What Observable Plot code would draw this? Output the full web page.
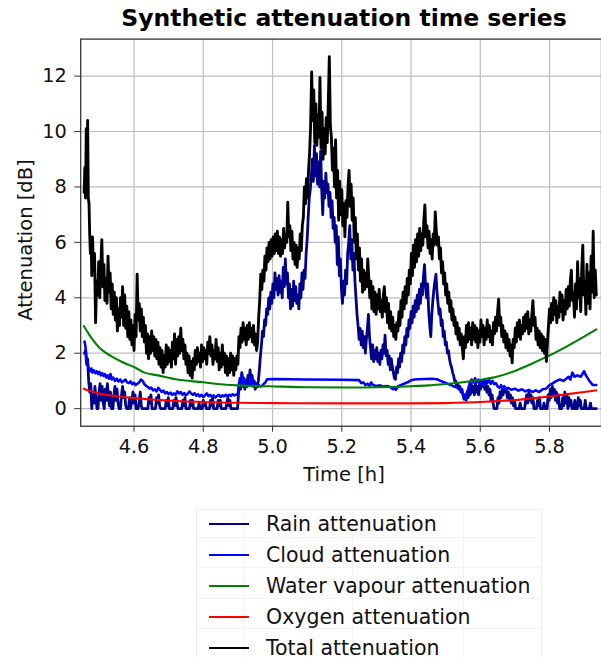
<!DOCTYPE html>
<html>
<head>
<meta charset="utf-8">
<script src="https://cdn.jsdelivr.net/npm/d3@7"></script>
<script src="https://cdn.jsdelivr.net/npm/@observablehq/plot@0.6"></script>
<style>
  html, body { margin: 0; padding: 0; background: #fff; }
  body { width: 601px; height: 657px; overflow: hidden; position: relative; font-family: "DejaVu Sans", sans-serif; }
  #chart { position: absolute; left: 0; top: 0; }
  #title { position: absolute; left: 81px; width: 526px; top: 4px; text-align: center; font-weight: bold; font-size: 23.5px; color: #000; white-space: nowrap; }
  #ylabel { position: absolute; left: 25px; top: 240px; transform: translate(-50%, -50%) rotate(-90deg); font-size: 19.5px; white-space: nowrap; color: #111; }
  #xlabel { position: absolute; left: 81px; width: 526px; top: 463px; text-align: center; font-size: 19.5px; color: #111; }
  #legend { position: absolute; left: 196px; top: 509px; width: 344px; height: 147px; border: 1px solid #ececec; border-bottom: none; }
  .row { position: absolute; left: 0; height: 20px; font-size: 20.5px; color: #111; white-space: nowrap; }
  .row .h { position: absolute; left: 12px; width: 40px; top: 11px; height: 2px; }
  .row .t { position: absolute; left: 69px; top: 2px; line-height: 20px; }
  .fg { position: absolute; background: #f3f3f3; }
</style>
</head>
<body>
<div id="chart"></div>
<div id="title">Synthetic attenuation time series</div>
<div id="ylabel">Attenuation [dB]</div>
<div id="xlabel">Time [h]</div>
<div id="legend"></div>
<script>
// ---- data (time [h], attenuation [dB]) ----
const rainAttenuation = [
[4.457,2.0],[4.460,2.1],[4.463,1.6],[4.466,1.8],[4.469,1.0],[4.472,0.6],[4.475,0.9],[4.478,0.0],[4.481,0.5],[4.484,0.2],
[4.487,0.8],[4.490,0.4],[4.493,0.0],[4.496,0.0],[4.499,0.6],[4.502,0.9],[4.505,0.3],[4.508,0.8],[4.511,0.2],[4.514,0.0],
[4.517,0.7],[4.520,0.3],[4.523,0.9],[4.526,0.5],[4.529,0.1],[4.532,0.6],[4.535,0.0],[4.539,0.0],[4.542,0.5],[4.545,0.8],
[4.548,0.3],[4.551,0.7],[4.554,0.2],[4.557,0.0],[4.561,0.0],[4.564,0.5],[4.567,0.8],[4.570,0.4],[4.573,0.6],[4.576,0.1],
[4.579,0.0],[4.584,0.0],[4.587,0.4],[4.590,0.0],[4.594,0.3],[4.597,0.6],[4.600,0.2],[4.603,0.5],[4.606,0.0],[4.612,0.0],
[4.615,0.3],[4.618,0.6],[4.621,0.1],[4.624,0.0],[4.640,0.0],[4.643,0.4],[4.646,0.2],[4.649,0.5],[4.652,0.0],[4.662,0.0],
[4.665,0.4],[4.668,0.2],[4.671,0.5],[4.674,0.1],[4.677,0.0],[4.690,0.0],[4.693,0.3],[4.696,0.1],[4.699,0.4],[4.702,0.0],
[4.712,0.0],[4.715,0.3],[4.718,0.1],[4.721,0.4],[4.724,0.2],[4.727,0.0],[4.738,0.0],[4.741,0.3],[4.744,0.1],[4.747,0.4],
[4.750,0.0],[4.760,0.0],[4.763,0.3],[4.766,0.1],[4.769,0.3],[4.772,0.0],[4.785,0.0],[4.788,0.2],[4.791,0.0],[4.797,0.0],
[4.800,0.3],[4.803,0.1],[4.806,0.2],[4.809,0.0],[4.818,0.0],[4.821,0.3],[4.824,0.1],[4.827,0.4],[4.830,0.0],[4.840,0.0],
[4.843,0.3],[4.846,0.1],[4.849,0.3],[4.852,0.0],[4.865,0.0],[4.868,0.2],[4.871,0.4],[4.874,0.1],[4.877,0.3],[4.880,0.0],
[4.899,0.0],[4.902,0.6],[4.905,0.9],[4.908,0.7],[4.911,1.3],[4.914,0.8],[4.917,1.1],[4.920,0.7],[4.923,1.0],[4.926,0.8],
[4.929,1.2],[4.932,0.9],[4.935,1.4],[4.938,1.0],[4.941,1.2],[4.944,0.8],[4.947,1.0],[4.950,0.7],[4.953,0.9],[4.956,0.8],
[4.959,1.0],[4.962,1.4],[4.965,1.9],[4.968,2.3],[4.971,2.8],[4.974,2.6],[4.977,3.2],[4.980,3.0],[4.983,3.6],[4.986,3.4],
[4.989,4.0],[4.992,3.6],[4.995,4.2],[4.998,3.8],[5.001,4.5],[5.004,4.0],[5.007,4.9],[5.010,4.3],[5.013,4.7],[5.016,4.1],
[5.019,4.8],[5.022,4.2],[5.025,4.6],[5.028,4.0],[5.031,5.1],[5.034,4.4],[5.037,5.4],[5.040,4.5],[5.043,4.9],[5.046,4.0],
[5.049,4.5],[5.052,3.6],[5.055,4.3],[5.058,3.7],[5.061,4.6],[5.064,3.9],[5.067,4.4],[5.070,3.8],[5.073,4.1],[5.076,3.6],
[5.079,4.5],[5.082,4.0],[5.085,4.9],[5.088,4.3],[5.091,5.0],[5.094,4.7],[5.097,5.6],[5.100,6.1],[5.103,6.9],[5.106,7.6],
[5.109,7.9],[5.112,8.4],[5.115,9.0],[5.118,8.2],[5.121,9.5],[5.124,8.4],[5.127,9.2],[5.130,8.1],[5.133,8.9],[5.136,8.0],
[5.139,9.3],[5.142,7.9],[5.145,7.0],[5.148,8.2],[5.151,7.6],[5.154,8.5],[5.157,7.8],[5.160,8.1],[5.163,7.3],[5.166,7.8],
[5.169,6.9],[5.172,7.5],[5.175,6.5],[5.178,6.9],[5.181,6.0],[5.184,6.6],[5.187,5.2],[5.190,6.2],[5.193,4.8],[5.196,5.4],
[5.199,4.3],[5.202,3.8],[5.205,4.6],[5.208,4.1],[5.211,5.0],[5.214,4.5],[5.217,5.6],[5.220,6.0],[5.223,6.6],[5.226,5.4],
[5.229,6.1],[5.232,5.0],[5.235,5.6],[5.238,4.6],[5.241,4.0],[5.244,3.4],[5.247,3.0],[5.250,2.5],[5.253,2.9],[5.256,2.3],
[5.259,2.8],[5.262,2.2],[5.265,2.6],[5.268,2.0],[5.271,2.5],[5.274,2.9],[5.277,3.4],[5.280,2.6],[5.283,2.2],[5.286,1.8],
[5.289,2.3],[5.292,1.7],[5.295,2.1],[5.298,1.8],[5.301,2.2],[5.304,1.7],[5.307,2.0],[5.310,1.6],[5.313,2.1],[5.316,1.8],
[5.319,2.3],[5.322,2.0],[5.325,2.65],[5.328,1.9],[5.331,2.1],[5.334,1.6],[5.337,1.9],[5.340,1.4],[5.343,1.8],[5.346,1.5],
[5.349,1.3],[5.352,1.1],[5.355,1.06],[5.358,1.5],[5.361,1.3],[5.364,1.8],[5.367,1.5],[5.370,2.0],[5.373,1.7],[5.376,2.3],
[5.379,2.0],[5.382,2.6],[5.385,2.3],[5.388,2.9],[5.391,2.6],[5.394,3.2],[5.397,2.9],[5.400,3.5],[5.403,3.1],[5.406,3.7],
[5.409,3.3],[5.412,3.9],[5.415,3.5],[5.418,4.1],[5.421,3.6],[5.424,4.3],[5.427,3.8],[5.430,4.5],[5.433,4.1],[5.436,4.8],
[5.439,5.2],[5.442,4.4],[5.445,4.0],[5.448,4.5],[5.451,3.5],[5.454,3.0],[5.457,2.6],[5.460,3.4],[5.463,3.9],[5.466,4.3],
[5.469,4.6],[5.472,4.85],[5.475,4.2],[5.478,3.8],[5.481,3.4],[5.484,3.6],[5.487,3.0],[5.490,3.2],[5.493,2.6],[5.496,2.8],
[5.499,2.3],[5.502,2.4],[5.505,2.0],[5.508,2.1],[5.511,1.8],[5.514,1.6],[5.517,1.5],[5.520,1.3],[5.523,1.2],[5.526,1.0],
[5.529,1.0],[5.532,0.8],[5.535,0.9],[5.538,0.7],[5.541,0.8],[5.544,0.6],[5.547,0.7],[5.550,0.5],[5.553,0.34],[5.556,0.5],
[5.559,0.3],[5.562,0.6],[5.565,0.4],[5.568,0.8],[5.571,0.5],[5.574,0.9],[5.577,0.6],[5.580,0.8],[5.583,0.5],[5.586,0.9],
[5.589,0.6],[5.592,0.8],[5.595,0.5],[5.598,0.9],[5.601,0.7],[5.604,1.0],[5.607,0.8],[5.610,1.0],[5.613,0.7],[5.616,0.9],
[5.619,0.6],[5.622,0.8],[5.625,0.5],[5.628,0.7],[5.631,0.3],[5.634,0.5],[5.637,0.2],[5.640,0.0],[5.648,0.0],[5.651,0.4],
[5.654,0.2],[5.657,0.6],[5.660,0.4],[5.663,0.7],[5.666,0.5],[5.669,0.8],[5.672,0.6],[5.675,0.7],[5.678,0.4],[5.681,0.6],
[5.684,0.3],[5.687,0.5],[5.690,0.2],[5.693,0.4],[5.696,0.1],[5.699,0.3],[5.702,0.0],[5.712,0.0],[5.715,0.2],[5.718,0.0],
[5.728,0.0],[5.731,0.3],[5.734,0.5],[5.737,0.2],[5.740,0.6],[5.743,0.3],[5.746,0.5],[5.749,0.2],[5.752,0.4],[5.755,0.0],
[5.762,0.0],[5.765,0.3],[5.768,0.1],[5.771,0.4],[5.774,0.0],[5.781,0.0],[5.784,0.2],[5.787,0.0],[5.793,0.0],[5.796,0.5],
[5.799,0.3],[5.802,0.7],[5.805,0.4],[5.808,0.8],[5.811,0.5],[5.814,0.7],[5.817,0.3],[5.820,0.6],[5.823,0.2],[5.826,0.5],
[5.829,0.0],[5.835,0.0],[5.838,0.4],[5.841,0.1],[5.844,0.6],[5.847,0.2],[5.850,0.5],[5.853,0.0],[5.856,0.4],[5.859,0.1],
[5.862,0.3],[5.865,0.0],[5.870,0.0],[5.873,0.3],[5.876,0.0],[5.880,0.0],[5.883,0.4],[5.886,0.1],[5.889,0.3],[5.892,0.0],
[5.900,0.0],[5.903,0.3],[5.906,0.0],[5.915,0.0],[5.918,0.2],[5.921,0.0],[5.935,0.0]
];

const cloudAttenuation = [
[4.457,2.42],[4.459,2.3],[4.461,2.1],[4.463,1.75],[4.465,1.65],[4.468,1.5],[4.471,1.42],[4.474,1.35],[4.477,1.45],[4.480,1.3],
[4.484,1.38],[4.488,1.28],[4.492,1.35],[4.496,1.25],[4.500,1.33],[4.504,1.2],[4.508,1.28],[4.512,1.18],[4.516,1.25],[4.520,1.12],
[4.524,1.2],[4.528,1.08],[4.532,1.25],[4.536,1.05],[4.540,1.12],[4.545,1.0],[4.550,1.08],[4.555,0.98],[4.560,1.05],[4.565,0.95],
[4.570,1.0],[4.575,1.05],[4.580,0.95],[4.585,0.92],[4.590,0.98],[4.595,0.88],[4.600,0.93],[4.605,0.85],[4.610,0.9],[4.615,0.95],
[4.620,1.05],[4.625,1.0],[4.630,0.88],[4.635,0.82],[4.640,0.78],[4.645,0.72],[4.650,0.76],[4.655,0.66],[4.660,0.7],[4.665,0.62],
[4.670,0.75],[4.675,0.68],[4.680,0.6],[4.685,0.65],[4.690,0.55],[4.695,0.6],[4.700,0.52],[4.705,0.58],[4.710,0.5],[4.715,0.55],
[4.720,0.5],[4.725,0.62],[4.730,0.55],[4.735,0.6],[4.740,0.5],[4.745,0.56],[4.750,0.48],[4.755,0.54],[4.760,0.62],[4.765,0.55],
[4.770,0.5],[4.775,0.56],[4.780,0.46],[4.785,0.52],[4.790,0.44],[4.795,0.5],[4.800,0.42],[4.805,0.48],[4.810,0.55],[4.815,0.45],
[4.820,0.5],[4.825,0.42],[4.830,0.48],[4.835,0.4],[4.840,0.46],[4.845,0.5],[4.850,0.42],[4.855,0.48],[4.860,0.44],[4.865,0.5],
[4.870,0.45],[4.875,0.5],[4.880,0.46],[4.885,0.52],[4.890,0.48],[4.895,0.5],[4.900,0.55],[4.903,0.9],[4.906,1.1],[4.909,0.85],
[4.912,1.25],[4.915,0.95],[4.918,1.1],[4.921,0.8],[4.924,0.95],[4.927,0.8],[4.930,1.0],[4.933,0.85],[4.936,1.15],[4.939,0.9],
[4.942,1.05],[4.945,0.82],[4.948,0.95],[4.951,0.8],[4.954,0.88],[4.957,0.78],[4.960,0.85],[4.965,0.8],[4.970,0.82],[4.975,0.9],
[4.980,0.95],[4.984,1.06],[5.000,1.07],[5.100,1.05],[5.200,1.04],[5.250,1.03],[5.256,0.92],[5.262,0.95],[5.268,0.85],[5.274,0.9],
[5.280,0.83],[5.285,0.95],[5.290,0.85],[5.300,0.82],[5.310,0.84],[5.320,0.8],[5.330,0.82],[5.340,0.78],[5.348,0.7],[5.352,0.75],
[5.356,0.68],[5.362,0.8],[5.370,0.85],[5.380,0.9],[5.390,0.95],[5.400,1.02],[5.410,1.05],[5.420,1.06],[5.440,1.07],[5.460,1.08],
[5.475,1.06],[5.485,1.0],[5.495,0.95],[5.505,0.9],[5.515,0.85],[5.525,0.8],[5.535,0.75],[5.545,0.65],[5.552,0.45],[5.556,0.35],
[5.560,0.5],[5.565,0.7],[5.570,0.95],[5.575,1.05],[5.580,0.95],[5.585,1.1],[5.590,0.95],[5.595,1.05],[5.600,0.9],[5.605,1.0],
[5.610,0.88],[5.615,1.02],[5.620,0.92],[5.625,1.05],[5.630,0.9],[5.635,1.0],[5.640,0.88],[5.645,0.92],[5.650,0.8],[5.655,0.75],
[5.660,0.85],[5.665,0.72],[5.670,0.78],[5.675,0.7],[5.680,0.75],[5.690,0.68],[5.700,0.72],[5.710,0.65],[5.720,0.7],[5.730,0.62],
[5.740,0.68],[5.750,0.6],[5.760,0.66],[5.770,0.6],[5.780,0.7],[5.790,0.72],[5.800,0.85],[5.810,0.92],[5.820,1.0],[5.830,1.05],
[5.840,1.0],[5.850,1.1],[5.855,1.15],[5.860,1.05],[5.866,1.3],[5.872,1.15],[5.880,1.2],[5.890,1.15],[5.900,1.35],[5.905,1.2],
[5.915,1.0],[5.925,0.85],[5.935,0.85]
];

const waterVapourAttenuation = [
[4.455,2.98],[4.47,2.68],[4.48,2.5],[4.50,2.2],[4.52,2.0],[4.54,1.85],[4.56,1.72],[4.58,1.6],[4.60,1.5],[4.63,1.3],
[4.67,1.2],[4.72,1.06],[4.80,0.95],[4.84,0.89],[4.90,0.84],[4.99,0.81],[5.10,0.77],[5.22,0.76],[5.30,0.77],[5.40,0.81],
[5.45,0.84],[5.50,0.89],[5.55,0.95],[5.60,1.04],[5.65,1.16],[5.70,1.36],[5.75,1.63],[5.80,1.92],[5.85,2.25],[5.90,2.6],
[5.935,2.86]
];

const oxygenAttenuation = [
[4.455,0.72],[4.47,0.65],[4.50,0.55],[4.55,0.45],[4.60,0.38],[4.65,0.33],[4.70,0.29],[4.75,0.26],[4.80,0.24],[4.85,0.22],
[4.90,0.21],[5.00,0.2],[5.20,0.19],[5.40,0.19],[5.50,0.2],[5.56,0.22],[5.60,0.24],[5.65,0.27],[5.70,0.31],[5.75,0.37],
[5.80,0.44],[5.85,0.52],[5.90,0.6],[5.935,0.66]
];

const totalAttenuation = [
[4.456,7.8],[4.458,8.7],[4.460,7.6],[4.462,10.1],[4.464,8.2],[4.466,10.4],[4.468,7.6],[4.470,7.4],[4.472,6.3],[4.474,5.6],
[4.476,6.1],[4.478,4.8],[4.480,6.2],[4.483,5.0],[4.486,5.6],[4.489,3.1],[4.492,4.6],[4.495,4.1],[4.498,5.3],[4.501,4.0],
[4.504,5.1],[4.507,6.1],[4.510,4.4],[4.513,5.2],[4.516,3.9],[4.519,4.7],[4.522,3.8],[4.525,5.5],[4.528,4.2],[4.531,4.9],
[4.534,3.6],[4.537,4.5],[4.540,3.4],[4.543,4.2],[4.546,3.2],[4.549,4.0],[4.552,2.8],[4.555,3.6],[4.558,3.0],[4.561,4.0],
[4.564,3.3],[4.567,4.4],[4.570,3.0],[4.573,4.1],[4.576,2.9],[4.579,3.7],[4.582,2.6],[4.585,3.5],[4.588,2.5],[4.591,3.2],
[4.594,2.3],[4.597,3.0],[4.600,2.1],[4.603,3.4],[4.606,2.6],[4.609,4.85],[4.612,3.2],[4.615,3.8],[4.618,2.8],[4.621,3.6],
[4.624,2.6],[4.627,3.3],[4.630,2.4],[4.633,3.0],[4.636,2.0],[4.639,2.7],[4.642,1.8],[4.645,2.6],[4.648,2.0],[4.651,2.8],
[4.654,2.1],[4.657,2.6],[4.660,1.9],[4.663,2.5],[4.666,1.8],[4.669,2.4],[4.672,1.6],[4.675,2.2],[4.678,1.5],[4.681,2.1],
[4.684,1.3],[4.687,1.9],[4.690,1.5],[4.693,2.3],[4.696,1.6],[4.699,2.2],[4.702,1.7],[4.705,2.1],[4.708,1.5],[4.711,2.4],
[4.714,1.8],[4.717,2.7],[4.720,1.6],[4.723,2.5],[4.726,1.9],[4.729,2.6],[4.732,2.0],[4.735,2.9],[4.738,2.1],[4.741,2.5],
[4.744,1.8],[4.747,2.3],[4.750,1.6],[4.753,2.0],[4.756,1.3],[4.759,1.9],[4.762,1.2],[4.765,1.7],[4.768,1.1],[4.771,1.8],
[4.774,1.4],[4.777,2.1],[4.780,1.6],[4.783,2.2],[4.786,1.7],[4.789,2.0],[4.792,1.5],[4.795,2.3],[4.798,1.7],[4.801,2.2],
[4.804,1.8],[4.807,2.1],[4.810,1.6],[4.813,2.4],[4.816,2.0],[4.819,2.6],[4.822,1.9],[4.825,2.3],[4.828,1.6],[4.831,2.1],
[4.834,1.8],[4.837,2.5],[4.840,1.7],[4.843,2.2],[4.846,1.4],[4.849,2.0],[4.852,1.5],[4.855,2.3],[4.858,1.6],[4.861,2.0],
[4.864,1.3],[4.867,1.9],[4.870,1.2],[4.873,1.8],[4.876,1.3],[4.879,2.0],[4.882,1.4],[4.885,1.9],[4.888,1.2],[4.891,1.8],
[4.894,1.4],[4.897,1.9],[4.900,1.6],[4.903,2.6],[4.906,2.2],[4.909,2.9],[4.912,2.4],[4.915,3.1],[4.918,2.5],[4.921,2.9],
[4.924,2.3],[4.927,3.0],[4.930,2.5],[4.933,3.1],[4.936,2.6],[4.939,2.9],[4.942,2.4],[4.945,3.0],[4.948,2.3],[4.951,2.7],
[4.954,2.1],[4.957,2.4],[4.960,3.3],[4.963,3.9],[4.966,4.85],[4.969,4.3],[4.972,5.0],[4.975,4.6],[4.978,5.5],[4.981,5.0],
[4.984,5.8],[4.987,5.3],[4.990,6.0],[4.993,5.4],[4.996,6.1],[4.999,5.5],[5.002,6.2],[5.005,5.6],[5.008,6.3],[5.011,5.7],
[5.014,6.4],[5.017,5.6],[5.020,6.2],[5.023,5.5],[5.026,6.1],[5.029,5.6],[5.032,6.5],[5.035,5.8],[5.038,6.3],[5.041,6.0],
[5.044,7.45],[5.047,6.2],[5.050,6.6],[5.053,5.7],[5.056,6.4],[5.059,5.4],[5.062,6.0],[5.065,5.2],[5.068,5.9],[5.071,5.1],
[5.074,5.8],[5.077,5.4],[5.080,6.3],[5.083,5.7],[5.086,6.6],[5.089,6.9],[5.092,8.0],[5.095,7.4],[5.098,8.3],[5.101,7.6],
[5.104,8.6],[5.107,9.2],[5.110,10.2],[5.113,12.15],[5.116,10.4],[5.119,11.5],[5.122,9.6],[5.125,11.0],[5.128,9.5],[5.131,10.6],
[5.134,9.8],[5.137,11.95],[5.140,9.4],[5.143,10.7],[5.146,9.0],[5.149,10.1],[5.152,9.2],[5.155,10.5],[5.158,9.6],[5.161,11.0],
[5.164,12.7],[5.167,10.2],[5.170,9.8],[5.173,8.6],[5.176,9.4],[5.179,8.0],[5.182,9.7],[5.185,7.6],[5.188,8.6],[5.191,6.8],
[5.194,8.2],[5.197,7.0],[5.200,7.9],[5.203,6.6],[5.206,7.4],[5.209,6.2],[5.212,7.5],[5.215,6.9],[5.218,8.0],[5.221,8.6],
[5.224,7.3],[5.227,8.1],[5.230,6.8],[5.233,7.6],[5.236,6.0],[5.239,6.9],[5.242,5.4],[5.245,6.3],[5.248,5.0],[5.251,5.8],
[5.254,4.6],[5.257,5.4],[5.260,4.2],[5.263,5.0],[5.266,4.3],[5.269,4.9],[5.272,4.4],[5.275,5.4],[5.278,4.7],[5.281,4.0],
[5.284,4.6],[5.287,3.6],[5.290,4.4],[5.293,3.5],[5.296,4.2],[5.299,3.4],[5.302,4.1],[5.305,3.6],[5.308,4.3],[5.311,3.5],
[5.314,3.9],[5.317,3.3],[5.320,4.1],[5.323,4.4],[5.326,3.5],[5.329,4.0],[5.332,3.1],[5.335,3.8],[5.338,2.9],[5.341,3.5],
[5.344,2.8],[5.347,3.3],[5.350,2.6],[5.353,3.0],[5.356,2.5],[5.359,3.1],[5.362,2.8],[5.365,3.5],[5.368,3.0],[5.371,3.9],
[5.374,3.3],[5.377,4.2],[5.380,3.6],[5.383,4.4],[5.386,3.8],[5.389,4.7],[5.392,4.1],[5.395,5.0],[5.398,4.5],[5.401,5.6],
[5.404,4.8],[5.407,5.9],[5.410,5.1],[5.413,6.1],[5.416,5.3],[5.419,6.3],[5.422,5.5],[5.425,6.5],[5.428,5.7],[5.431,6.3],
[5.434,5.9],[5.437,6.8],[5.440,7.35],[5.443,6.2],[5.446,6.6],[5.449,5.8],[5.452,6.4],[5.455,5.6],[5.458,6.1],[5.461,5.4],
[5.464,6.3],[5.467,5.9],[5.470,7.1],[5.473,6.4],[5.476,5.9],[5.479,6.2],[5.482,5.4],[5.485,5.8],[5.488,4.9],[5.491,5.3],
[5.494,4.5],[5.497,4.9],[5.500,4.1],[5.503,4.5],[5.506,3.8],[5.509,4.2],[5.512,3.5],[5.515,3.9],[5.518,3.2],[5.521,3.6],
[5.524,3.0],[5.527,3.3],[5.530,2.7],[5.533,3.1],[5.536,2.5],[5.539,2.9],[5.542,2.3],[5.545,2.7],[5.548,2.2],[5.551,1.8],
[5.554,2.6],[5.557,2.2],[5.560,3.0],[5.563,2.4],[5.566,3.1],[5.569,2.5],[5.572,2.9],[5.575,2.3],[5.578,3.1],[5.581,2.5],
[5.584,3.0],[5.587,2.4],[5.590,2.9],[5.593,2.2],[5.596,2.8],[5.599,2.4],[5.602,3.2],[5.605,2.6],[5.608,3.0],[5.611,2.3],
[5.614,2.9],[5.617,2.5],[5.620,3.2],[5.623,2.6],[5.626,3.0],[5.629,2.4],[5.632,2.8],[5.635,2.3],[5.638,3.1],[5.641,2.7],
[5.644,3.3],[5.647,2.8],[5.650,3.5],[5.653,3.95],[5.656,3.0],[5.659,3.3],[5.662,2.6],[5.665,3.0],[5.668,2.4],[5.671,2.8],
[5.674,2.2],[5.677,2.7],[5.680,2.1],[5.683,2.5],[5.686,1.9],[5.689,2.3],[5.692,1.65],[5.695,2.5],[5.698,2.2],[5.701,2.9],
[5.704,2.4],[5.707,3.1],[5.710,2.6],[5.713,3.2],[5.716,2.5],[5.719,3.0],[5.722,2.7],[5.725,3.3],[5.728,2.8],[5.731,3.4],
[5.734,2.9],[5.737,3.5],[5.740,2.7],[5.743,3.2],[5.746,2.8],[5.749,3.4],[5.752,3.9],[5.755,3.0],[5.758,3.3],[5.761,2.5],
[5.764,2.9],[5.767,2.3],[5.770,2.8],[5.773,2.2],[5.776,2.7],[5.779,2.1],[5.782,2.6],[5.785,2.0],[5.788,2.5],[5.791,1.7],
[5.794,2.4],[5.797,3.0],[5.800,3.6],[5.803,3.1],[5.806,3.8],[5.809,3.2],[5.812,4.0],[5.815,3.4],[5.818,3.9],[5.821,3.1],
[5.824,3.7],[5.827,3.3],[5.830,4.2],[5.833,3.5],[5.836,4.1],[5.839,3.2],[5.842,3.9],[5.845,3.4],[5.848,4.3],[5.851,3.6],
[5.854,4.4],[5.857,3.7],[5.860,4.6],[5.863,5.0],[5.866,3.9],[5.869,4.2],[5.872,3.3],[5.875,4.5],[5.878,3.6],[5.881,5.3],
[5.884,4.0],[5.887,4.7],[5.890,3.5],[5.893,5.0],[5.896,5.9],[5.899,4.1],[5.902,4.6],[5.905,3.4],[5.908,5.2],[5.911,3.8],
[5.914,4.9],[5.917,3.6],[5.920,5.5],[5.923,4.2],[5.926,6.4],[5.929,4.0],[5.932,5.0],[5.935,4.1]
];

const xTicks = [4.6, 4.8, 5.0, 5.2, 5.4, 5.6, 5.8];
const yTicks = [0, 2, 4, 6, 8, 10, 12];

const seriesNames = ["Rain attenuation", "Cloud attenuation", "Water vapour attenuation", "Oxygen attenuation", "Total attenuation"];
const seriesColors = ["#00008b", "#0000ff", "#008000", "#ff0000", "#000000"];
const seriesData = [rainAttenuation, cloudAttenuation, waterVapourAttenuation, oxygenAttenuation, totalAttenuation];
const seriesWidths = [2.8, 2.6, 2.1, 2.1, 2.9];

const gridColor = "#bdbdbd";

const chart = Plot.plot({
  width: 607,
  height: 500,
  marginLeft: 81,
  marginRight: 0,
  marginTop: 39,
  marginBottom: 70,
  style: { fontFamily: "DejaVu Sans", background: "transparent", overflow: "visible" },
  x: { domain: [4.446, 5.95] },
  y: { domain: [-0.635, 13.335] },
  marks: [
    Plot.gridX(xTicks, { stroke: gridColor, strokeOpacity: 1, strokeWidth: 1.2 }),
    Plot.gridY(yTicks, { stroke: gridColor, strokeOpacity: 1, strokeWidth: 1.2 }),
    ...seriesData.map((d, i) => Plot.line(d, {
      x: p => p[0], y: p => p[1],
      stroke: seriesColors[i], strokeWidth: seriesWidths[i],
      curve: (i === 2 || i === 3) ? "monotone-x" : "linear",
      strokeLinejoin: "round", clip: true
    })),
    Plot.frame({ stroke: "#333", strokeWidth: 1.3 }),
    Plot.axisX(xTicks, { tickSize: 6, tickPadding: 7, fontSize: 19.5, tickFormat: d3.format(".1f"), label: null, stroke: "#333", fill: "#111" }),
    Plot.axisY(yTicks, { tickSize: 6, tickPadding: 8, fontSize: 19.5, tickFormat: d => String(d), label: null, stroke: "#333", fill: "#111" })
  ]
});
document.getElementById("chart").appendChild(chart);

// legend
const legend = document.getElementById("legend");
[46, 155, 266].forEach(x => {
  const v = document.createElement("div"); v.className = "fg";
  v.style.left = x + "px"; v.style.top = "0px"; v.style.width = "1px"; v.style.height = "147px";
  legend.appendChild(v);
});
[27, 57, 88, 118].forEach(y => {
  const h = document.createElement("div"); h.className = "fg";
  h.style.left = "0px"; h.style.top = y + "px"; h.style.height = "1px"; h.style.width = "344px";
  legend.appendChild(h);
});
seriesNames.forEach((name, i) => {
  const row = document.createElement("div");
  row.className = "row";
  row.style.top = (2 + i * 30.9) + "px";
  row.innerHTML = `<div class="h" style="background:${seriesColors[i]}"></div><div class="t">${name}</div>`;
  legend.appendChild(row);
});
</script>
</body>
</html>
